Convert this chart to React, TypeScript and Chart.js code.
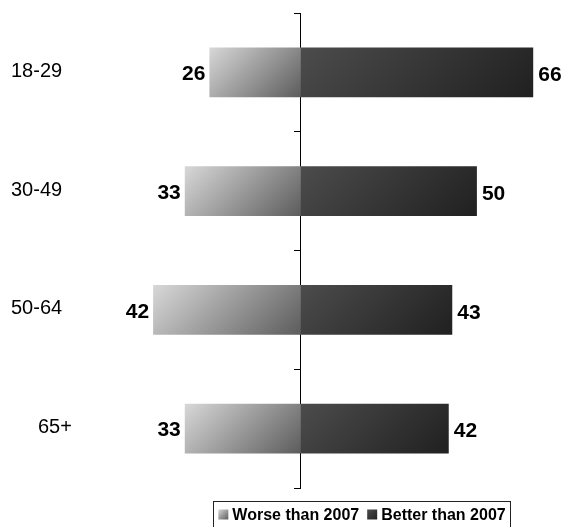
import React, { useEffect, useRef } from "react";
import { Chart, registerables } from "chart.js";

Chart.register(...registerables);

const categories = ["18-29", "30-49", "50-64", "65+"];
const worseValues = [26, 33, 42, 33];
const betterValues = [66, 50, 43, 42];
const seriesNames = ["Worse than 2007", "Better than 2007"];
const categoryLabelX = [11, 11, 11, 38];

const FONT = "'Liberation Sans', Arial, sans-serif";

function barGradient(ctx: any, light: boolean) {
  const chart = ctx.chart;
  const fallback = light ? "#9a9a9a" : "#363636";
  if (!chart.chartArea || ctx.type !== "data") return fallback;
  const xs = chart.scales.x;
  const ys = chart.scales.y;
  const v = ctx.raw as number;
  const x0 = xs.getPixelForValue(0);
  const x1 = xs.getPixelForValue(v);
  const yc = ys.getPixelForValue(ctx.dataIndex);
  const half = 25;
  const left = Math.min(x0, x1);
  const w = Math.abs(x1 - x0);
  const h = half * 2;
  const top = yc - half;
  const d = (w + h) / 2;
  const g = chart.ctx.createLinearGradient(left, top, left + d, top + d);
  if (light) {
    g.addColorStop(0, "#d8d8d8");
    g.addColorStop(1, "#5c5c5c");
  } else {
    g.addColorStop(0, "#4c4c4c");
    g.addColorStop(1, "#202020");
  }
  return g;
}

const labelPlugin = {
  id: "customLabels",
  afterDatasetsDraw(chart: any) {
    const c = chart.ctx;
    const ys = chart.scales.y;
    c.save();
    c.font = `20px ${FONT}`;
    c.fillStyle = "#000";
    c.textAlign = "left";
    c.textBaseline = "middle";
    categories.forEach((cat, i) => {
      c.fillText(cat, categoryLabelX[i], ys.getPixelForValue(i) - 1);
    });
    c.font = `bold 21px ${FONT}`;
    chart.data.datasets.forEach((ds: any, di: number) => {
      const meta = chart.getDatasetMeta(di);
      meta.data.forEach((el: any, i: number) => {
        const raw = di === 0 ? worseValues[i] : betterValues[i];
        if (di === 0) {
          c.textAlign = "right";
          c.fillText(String(raw), Math.min(el.x, el.base) - 4, el.y + 2);
        } else {
          c.textAlign = "left";
          c.fillText(String(raw), Math.max(el.x, el.base) + 5, el.y + 3);
        }
      });
    });
    c.restore();
  },
  afterDraw(chart: any) {
    const c = chart.ctx;
    c.save();
    const boxX = 213.5, boxY = 501.5, boxW = 297, boxH = 26;
    c.strokeStyle = "#222";
    c.lineWidth = 1;
    c.strokeRect(boxX, boxY, boxW, boxH);
    c.font = `bold 16px ${FONT}`;
    c.textBaseline = "middle";
    c.textAlign = "left";
    const sw = 10, gap = 4, itemGap = 8;
    const w0 = c.measureText(seriesNames[0]).width;
    const w1 = c.measureText(seriesNames[1]).width;
    const total = sw + gap + w0 + itemGap + sw + gap + w1;
    let x = boxX + (boxW - total) / 2;
    const yc = boxY + 13;
    const drawSwatch = (sx: number, light: boolean) => {
      const g = c.createLinearGradient(sx, yc - sw / 2, sx + sw, yc + sw / 2);
      if (light) {
        g.addColorStop(0, "#d8d8d8");
        g.addColorStop(1, "#5c5c5c");
      } else {
        g.addColorStop(0, "#4c4c4c");
        g.addColorStop(1, "#202020");
      }
      c.fillStyle = g;
      c.fillRect(sx, yc - sw / 2, sw, sw);
    };
    drawSwatch(x, true);
    x += sw + gap;
    c.fillStyle = "#000";
    c.fillText(seriesNames[0], x, yc + 1);
    x += w0 + itemGap;
    drawSwatch(x, false);
    x += sw + gap;
    c.fillStyle = "#000";
    c.fillText(seriesNames[1], x, yc + 1);
    c.restore();
  },
};

export default function App() {
  const ref = useRef<HTMLCanvasElement>(null);
  useEffect(() => {
    if (!ref.current) return;
    const chart = new Chart(ref.current, {
      type: "bar",
      data: {
        labels: categories,
        datasets: [
          {
            label: seriesNames[0],
            data: worseValues.map((v) => -v),
            backgroundColor: (ctx: any) => barGradient(ctx, true),
            borderWidth: 0,
            barPercentage: 0.42,
            categoryPercentage: 1,
          },
          {
            label: seriesNames[1],
            data: betterValues,
            backgroundColor: (ctx: any) => barGradient(ctx, false),
            borderWidth: 0,
            barPercentage: 0.42,
            categoryPercentage: 1,
          },
        ],
      },
      options: {
        indexAxis: "y",
        responsive: false,
        animation: false,
        devicePixelRatio: 1,
        layout: { padding: { left: 0, right: 0, top: 13, bottom: 39 } },
        plugins: { legend: { display: false }, tooltip: { enabled: false } },
        scales: {
          x: {
            type: "linear",
            stacked: true,
            min: -85.5,
            max: 75.6,
            display: false,
          },
          y: {
            type: "category",
            stacked: true,
            position: { x: 0 } as any,
            grid: {
              drawOnChartArea: false,
              drawTicks: true,
              tickLength: 6,
              color: "#000",
              lineWidth: 1,
            },
            border: { display: true, color: "#000", width: 1 },
            ticks: { display: false },
          },
        },
      },
      plugins: [labelPlugin],
    } as any);
    return () => chart.destroy();
  }, []);
  return (
    <div style={{ position: "absolute", left: 0, top: 0, width: 567, height: 527, background: "#fff" }}>
      <canvas ref={ref} width={567} height={527} style={{ display: "block" }} />
    </div>
  );
}
